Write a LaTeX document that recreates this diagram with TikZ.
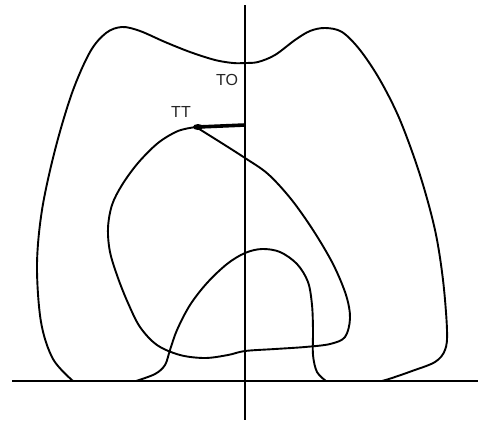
\documentclass[tikz,border=0pt]{standalone}
\usepackage{fontspec}
\setmainfont{Liberation Sans}
\usetikzlibrary{shapes.geometric}
\begin{document}
\begin{tikzpicture}[x=1pt,y=-1pt,
  curve/.style={line width=1.9pt, line join=round, line cap=round},
  axisline/.style={line width=2pt},
  lbl/.style={font=\fontsize{16}{16}\selectfont, inner sep=0pt, text=black!85}]
\useasboundingbox (0,0) rectangle (478,423);
\fill[white] (0,0) rectangle (478,423);
% axes
\coordinate (ytop) at (245,5);
\coordinate (ybot) at (245,420);
\coordinate (xl) at (12,381);
\coordinate (xr) at (478,381);
\draw[axisline] (ytop) -- (ybot);
\draw[axisline] (xl) -- (xr);
% outer M-shaped curve
\draw[curve] plot[smooth, tension=0.55] coordinates {
 (73,381) (53,359) (41,322) (37,265) (42,210) (55,150) (72,93) (90,52) (106,33) (122,27)
 (140,31) (165,42) (190,52) (215,60) (233,63) (245,63) (258,62) (275,55) (295,40) (310,31) (325,28)
 (342,32) (360,50) (380,80) (400,120) (420,175) (435,230) (443,280) (447,330) (445,350)
 (435,362) (412,371) (392,378) (382,381)};
% arch curve
\draw[curve] plot[smooth, tension=0.55] coordinates {
 (136,381) (155,374) (165,365) (170,350) (177,330) (190,305) (207,283) (227,264) (245,253)
 (262,249) (280,252) (297,264) (308,282) (312,305) (313,330) (313,355) (317,372) (326,381)};
% loop from TT
\draw[curve] plot[smooth, tension=0.55] coordinates {
 (196,127) (178,131) (158,143) (138,163) (122,185) (112,205) (108,228) (110,252) (118,278)
 (128,303) (140,327) (157,345) (180,355) (205,358) (228,355) (245,351) (275,349) (305,347)
 (330,344) (345,337) (350,318) (346,295) (333,264) (313,230) (291,199) (268,174)
 (245,158) (220,142) (196,127)};
% thick TT line
\coordinate (ttend) at (245,125);
\node[fill, ellipse, minimum width=10pt, minimum height=6pt, inner sep=0pt] (ttdot) at (198,127) {};
\draw[line width=3.6pt] (ttdot.center) -- (ttend);
% labels
\node[lbl] (TO) at (227,80) {TO};
\node[lbl] (TT) at (181,112) {TT};
\end{tikzpicture}
\end{document}
